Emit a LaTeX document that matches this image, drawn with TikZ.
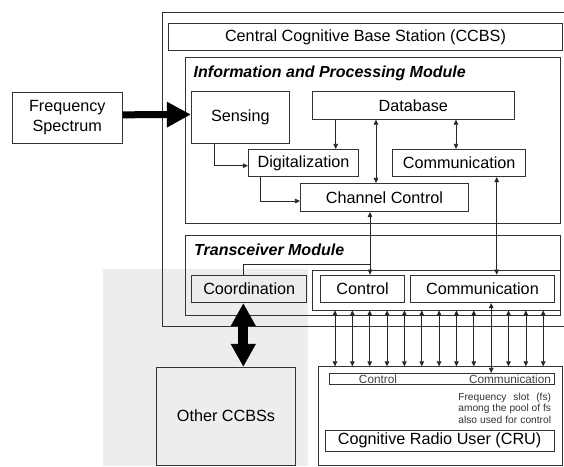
\documentclass[tikz,border=0pt]{standalone}
\usepackage{fontspec}
\setmainfont{Liberation Sans}
\usetikzlibrary{arrows.meta,calc}
\begin{document}
\begin{tikzpicture}[x=1pt,y=-1pt,
  box/.style={draw=black!80, line width=0.8pt, inner sep=0pt, font=\fontsize{16.2}{20}\selectfont},
  ttl/.style={anchor=base west, inner sep=0pt, font=\fontsize{16}{20}\selectfont\bfseries\itshape},
  arr/.style={draw=black!85, line width=0.7pt, -{Triangle[length=5pt,width=4.6pt]}},
  darr/.style={draw=black!85, line width=0.7pt, {Triangle[length=5pt,width=4.6pt]}-{Triangle[length=5pt,width=4.6pt]}},
  plain/.style={draw=black!85, line width=0.7pt},
  fat/.style={draw=black, line width=7pt, -{Triangle[length=24pt,width=24pt]}},
  dfat/.style={draw=black, line width=10pt, {Triangle[length=23pt,width=23.5pt]}-{Triangle[length=23pt,width=23.5pt]}},
  small/.style={inner sep=0pt, text=black!75, font=\fontsize{11.8}{12}\selectfont},
  tiny/.style={inner sep=0pt, text=black!80, align=left, font=\fontsize{10.2}{11.8}\selectfont}
]
\useasboundingbox (0,0) rectangle (564,466);
\clip (0,0) rectangle (564,466);
\fill[white] (0,0) rectangle (564,466);
% shaded region
\fill[black!7] (103,269) rectangle (308,466);

% boxes
\node[box, minimum width=407.3pt, minimum height=314.7pt] (outer) at (366.35,169.35) {};
\node[box, minimum width=394.4pt, minimum height=27.4pt] (title) at (365.5,37) {Central Cognitive Base Station (CCBS)};
\node[box, minimum width=375.4pt, minimum height=166pt] (ipm) at (373,140.3) {};
\node[ttl] (ipmt) at (193.5,77.5) {Information and Processing Module};
\node[box, minimum width=98pt, minimum height=51.6pt] (sens) at (240.3,117.5) {Sensing};
\node[box, minimum width=202pt, minimum height=27.6pt] (db) at (413.3,105.5) {Database};
\node[box, minimum width=110.4pt, minimum height=27.4pt] (digit) at (303.5,163) {Digitalization};
\node[box, minimum width=133pt, minimum height=27.4pt] (commi) at (459.2,163) {Communication};
\node[box, minimum width=168.4pt, minimum height=28.4pt] (cc) at (384.5,197.5) {Channel Control};

\node[box, minimum width=375pt, minimum height=80pt] (tm) at (373.2,275) {};
\node[ttl] (tmt) at (194,255) {Transceiver Module};
\node[box, minimum width=115pt, minimum height=27.7pt] (coord) at (249.2,288.85) {Coordination};
\node[box, minimum width=248pt, minimum height=40pt] (grp) at (436.7,290) {};
\node[box, minimum width=83.6pt, minimum height=27.7pt] (ctl) at (362.5,288.85) {Control};
\node[box, minimum width=144.4pt, minimum height=27.7pt] (commt) at (482.5,288.85) {Communication};

\node[box, minimum width=110pt, minimum height=51pt, align=center] (freq) at (67.3,117.8) {Frequency\\Spectrum};
\node[box, minimum width=138.6pt, minimum height=97.7pt] (oth) at (226,416.15) {Other CCBSs};

\node[box, minimum width=244.4pt, minimum height=98.3pt] (cru) at (440.5,415.85) {};
\node[box, minimum width=225.4pt, minimum height=11pt] (strip) at (442,378.8) {};
\node[small] (lctl) at (378,378.8) {Control};
\node[small] (lcom) at (510,378.8) {Communication};
\node[tiny] (fs) at (504.7,408.3) {\makebox[92.7pt][s]{Frequency slot (fs)}\\\makebox[92.7pt][s]{among the pool of fs}\\\makebox[92.7pt][s]{also used for control}};
\node[box, minimum width=229.3pt, minimum height=21pt] (cruin) at (439.65,440.5) {Cognitive Radio User (CRU)};

% connector x positions
\coordinate (xa) at (214.3,0);
\coordinate (xb) at (260.3,0);
\coordinate (xc) at (335.7,0);
\coordinate (xd) at (376,0);
\coordinate (xe) at (456,0);
\coordinate (xf) at (370,0);
\coordinate (xg) at (496.7,0);
\coordinate (dax) at (243.3,0);
\coordinate (cj) at (370,264.3);

% thick arrows
\draw[fat] ([yshift=3pt]freq.east) -- ([yshift=3pt]sens.west);
\draw[dfat] (coord.south -| dax) -- (oth.north -| dax);

% IPM connectors
\draw[arr] (sens.south -| xa) |- ([yshift=-2.7pt]digit.west);
\draw[arr] (digit.south -| xb) |- ([yshift=-3.5pt]cc.west);
\draw[arr] (db.south -| xc) -- (digit.north -| xc);
\draw[darr] (db.south -| xd) -- (cc.north -| xd);
\draw[darr] (db.south -| xe) -- (commi.north -| xe);
\draw[darr] (cc.south -| xf) -- (ctl.north -| xf);
\draw[darr] (commi.south -| xg) -- (commt.north -| xg);
\draw[plain] (coord.north -| dax) |- (cj);

% transceiver <-> CRU
\foreach \k in {0,1,2,3,4,5,6,7,8,10,11,12} {
  \coordinate (v\k) at ({335+17.35*\k},0);
  \draw[darr] (grp.south -| v\k) -- (cru.north -| v\k);
}
\coordinate (v9) at (491.15,0);
\draw[darr] (commt.south -| v9) -- (strip.north -| v9);
\end{tikzpicture}
\end{document}
